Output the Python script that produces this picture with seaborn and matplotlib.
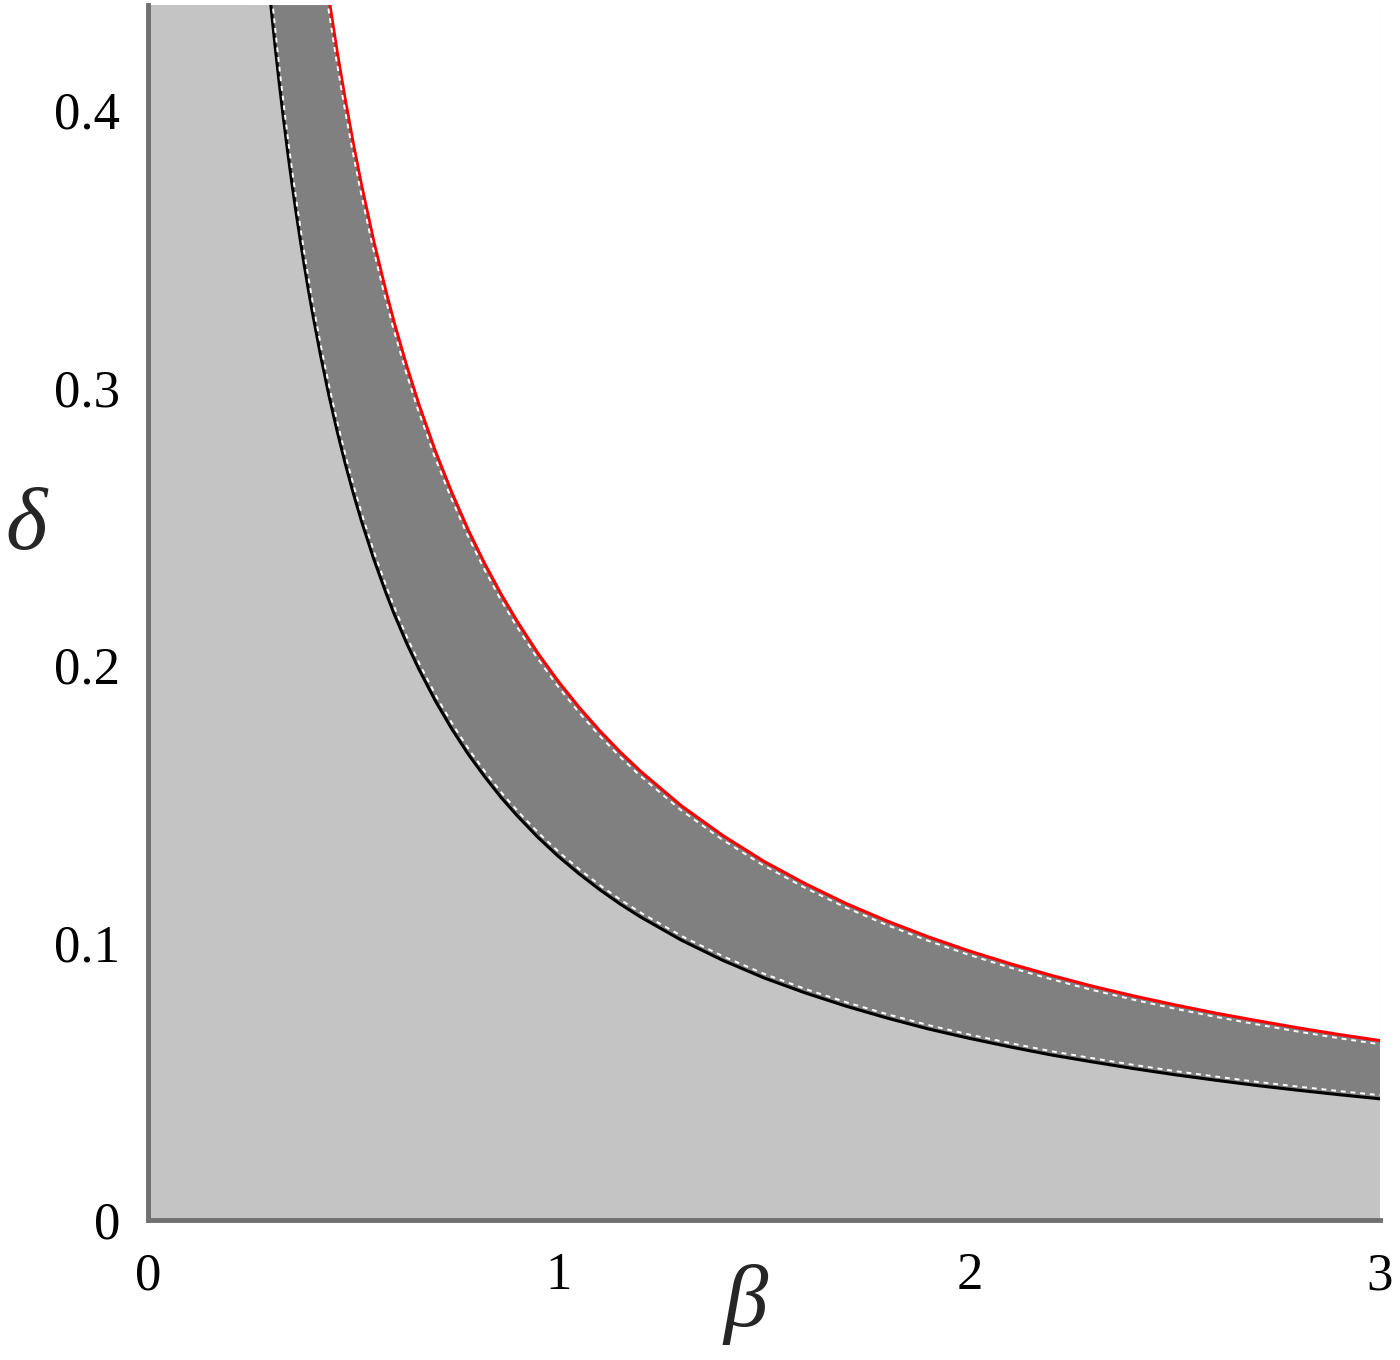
import numpy as np
import matplotlib
matplotlib.use("Agg")
import matplotlib.pyplot as plt
import matplotlib.transforms as mtransforms
from matplotlib.ticker import MultipleLocator
import seaborn as sns

# values
beta = [0.25, 0.26, 0.27, 0.28, 0.29, 0.30, 0.31, 0.32, 0.33, 0.34, 0.35, 0.36,
        0.37, 0.38, 0.39, 0.40, 0.42, 0.44, 0.46, 0.48, 0.50, 0.52, 0.55, 0.58,
        0.60, 0.63, 0.66, 0.70, 0.74, 0.78, 0.82, 0.86, 0.90, 0.95, 1.00, 1.05,
        1.10, 1.15, 1.20, 1.30, 1.40, 1.50, 1.60, 1.70, 1.80, 1.90, 2.00, 2.10,
        2.20, 2.30, 2.40, 2.50, 2.60, 2.70, 2.80, 2.90, 3.00]
delta_lower = [0.5240, 0.5038, 0.4852, 0.4679, 0.4517, 0.4367, 0.4226, 0.4094,
               0.3970, 0.3853, 0.3743, 0.3639, 0.3541, 0.3447, 0.3359, 0.3275,
               0.3119, 0.2977, 0.2848, 0.2729, 0.2620, 0.2519, 0.2382, 0.2259,
               0.2183, 0.2079, 0.1985, 0.1871, 0.1770, 0.1679, 0.1598, 0.1523,
               0.1456, 0.1379, 0.1310, 0.1248, 0.1191, 0.1139, 0.1092, 0.1008,
               0.0936, 0.0873, 0.0819, 0.0771, 0.0728, 0.0689, 0.0655, 0.0624,
               0.0595, 0.0570, 0.0546, 0.0524, 0.0504, 0.0485, 0.0468, 0.0452,
               0.0437]
delta_upper = [0.7760, 0.7462, 0.7185, 0.6929, 0.6690, 0.6467, 0.6258, 0.6063,
               0.5879, 0.5706, 0.5543, 0.5389, 0.5243, 0.5105, 0.4974, 0.4850,
               0.4619, 0.4409, 0.4217, 0.4042, 0.3880, 0.3731, 0.3527, 0.3345,
               0.3233, 0.3079, 0.2939, 0.2771, 0.2622, 0.2487, 0.2366, 0.2256,
               0.2156, 0.2042, 0.1940, 0.1848, 0.1764, 0.1687, 0.1617, 0.1492,
               0.1386, 0.1293, 0.1213, 0.1141, 0.1078, 0.1021, 0.0970, 0.0924,
               0.0882, 0.0843, 0.0808, 0.0776, 0.0746, 0.0719, 0.0693, 0.0669,
               0.0647]

x_max = 3.0
y_max = 0.438

sns.set_style("white")
plt.rcParams['font.family'] = ['Liberation Serif', 'DejaVu Serif']

fig = plt.figure(figsize=(14, 13.6), dpi=100)
ax = fig.add_axes([0.1057, 0.1029, 0.88, 0.8934])
ax.set_facecolor('#c4c4c4')

# dark band between the two curves, white above the upper curve
ax.fill_between(beta, delta_lower, delta_upper, color='#808080', lw=0, zorder=1)
ax.fill_between(beta, delta_upper, y_max, color='white', lw=0, zorder=1)

sns.lineplot(x=beta, y=delta_lower, color='black', lw=2.2, ax=ax, zorder=3)
sns.lineplot(x=beta, y=delta_upper, color='red', lw=2.2, ax=ax, zorder=3)

# thin white dashes running just inside the band
up = mtransforms.offset_copy(ax.transData, fig=fig, x=1.5, y=3.5, units='dots')
down = mtransforms.offset_copy(ax.transData, fig=fig, x=-1.5, y=-3.5, units='dots')
ax.plot(beta, delta_lower, color='white', lw=1.4, ls=(0, (2.5, 2.5)), transform=up, zorder=4)
ax.plot(beta, delta_upper, color='white', lw=1.4, ls=(0, (2.5, 2.5)), transform=down, zorder=4)

ax.set_xlim(0, x_max)
ax.set_ylim(0, y_max)

ax.xaxis.set_major_locator(MultipleLocator(1))
ax.xaxis.set_minor_locator(MultipleLocator(0.5))
ax.yaxis.set_major_locator(MultipleLocator(0.1))
ax.yaxis.set_minor_locator(MultipleLocator(0.05))
ax.xaxis.set_major_formatter(plt.FuncFormatter(lambda v, p: f"{v:g}"))
ax.yaxis.set_major_formatter(plt.FuncFormatter(lambda v, p: "0" if v == 0 else f"{v:.1f}"))

ax.tick_params(which='both', direction='out', color='#c8c8c8', width=1.2,
               labelsize=38, labelcolor='black')
ax.tick_params(which='major', length=6)
ax.tick_params(which='minor', length=4)
ax.tick_params(axis='y', which='major', pad=14)
ax.tick_params(axis='x', which='major', pad=17)

for side in ['top', 'right']:
    ax.spines[side].set_visible(False)
for side in ['left', 'bottom']:
    ax.spines[side].set_color('#707070')
    ax.spines[side].set_linewidth(3.5)
    ax.spines[side].set_zorder(5)

ax.set_xlabel('β', fontsize=64, style='italic')
ax.xaxis.set_label_coords(0.485, -0.036)
ax.set_ylabel('δ', fontsize=64, style='italic', rotation=0, va='center', ha='center')
ax.yaxis.set_label_coords(-0.099, 0.570)

fig.savefig('out.png', dpi=100)
